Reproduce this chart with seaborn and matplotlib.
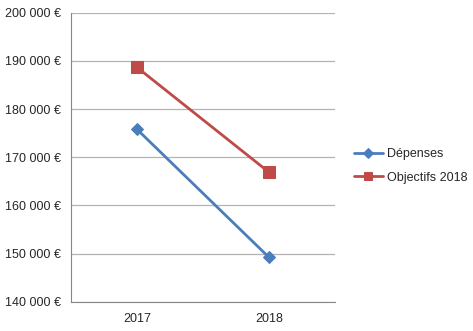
import matplotlib
matplotlib.use("Agg")
import matplotlib.pyplot as plt
from matplotlib.ticker import FuncFormatter, FixedLocator
import seaborn as sns
import pandas as pd

years = ["2017", "2018"]
depenses = [175800, 149250]
objectifs = [188650, 166900]
series_names = ["Dépenses", "Objectifs 2018"]

sns.set_style("white")
plt.rcParams["font.family"] = ["Liberation Sans", "DejaVu Sans"]

df = pd.DataFrame({
    "pos": list(range(len(years))) * 2,
    "valeur": depenses + objectifs,
    "serie": [series_names[0]] * len(years) + [series_names[1]] * len(years),
})

fig = plt.figure(figsize=(4.73, 3.31), dpi=100)
ax = fig.add_axes([0.150, 0.088, 0.558, 0.874])

palette = {series_names[0]: "#4A7EBB", series_names[1]: "#BE4B48"}
markers = {series_names[0]: "D", series_names[1]: "s"}
sizes_m = {series_names[0]: 6, series_names[1]: 8}

for name in series_names:
    sub = df[df["serie"] == name]
    sns.lineplot(data=sub, x="pos", y="valeur", ax=ax, color=palette[name],
                 marker=markers[name], markersize=sizes_m[name],
                 markeredgecolor=palette[name], linewidth=2, label=name)

ax.set_xlim(-0.5, len(years) - 0.5)
ax.set_ylim(140000, 200000)
ax.set_yticks(range(140000, 200001, 10000))
ax.yaxis.set_major_formatter(FuncFormatter(lambda v, p: f"{int(v):,}".replace(",", " ") + " €"))

# category boundaries carry the tick marks, labels sit between them
ax.xaxis.set_major_locator(FixedLocator([-0.5, 0.5, 1.5]))
ax.set_xticklabels([])
ax.xaxis.set_minor_locator(FixedLocator(list(range(len(years)))))
ax.set_xticklabels(years, minor=True)
ax.tick_params(axis="x", which="minor", length=0, pad=8, labelsize=9)
ax.tick_params(axis="x", which="major", length=4, color="#868686", width=0.8, direction="out")
ax.tick_params(axis="y", length=4, color="#868686", width=0.8, direction="out", labelsize=9, pad=3)

ax.grid(axis="y", color="#B3B3B3", linewidth=0.9)
ax.set_axisbelow(True)
for s in ["top", "right"]:
    ax.spines[s].set_visible(False)
for s in ["left", "bottom"]:
    ax.spines[s].set_color("#868686")
    ax.spines[s].set_linewidth(0.8)

ax.set_xlabel("")
ax.set_ylabel("")

ax.legend(loc="center left", bbox_to_anchor=(1.03, 0.47), frameon=False,
          fontsize=9, handlelength=2.3, labelspacing=0.9, handletextpad=0.3,
          markerscale=0.8)

fig.savefig("out.png", dpi=100)
